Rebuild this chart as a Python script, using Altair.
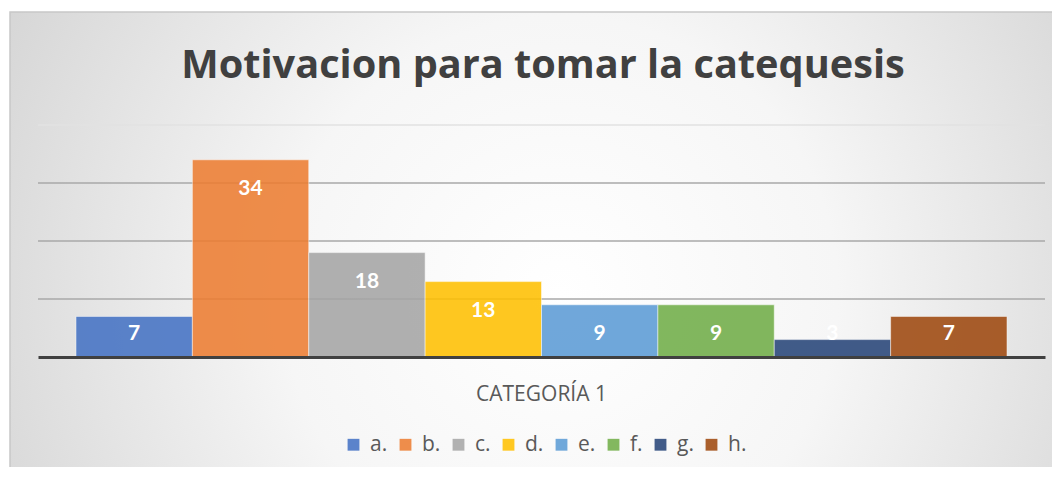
import altair as alt
import pandas as pd

# ---- data ----
title_text = "Motivacion para tomar la catequesis"
category = "CATEGORÍA 1"
series = ["a.", "b.", "c.", "d.", "e.", "f.", "g.", "h."]
values = [7, 34, 18, 13, 9, 9, 3, 7]
colors = ["#4472C4", "#ED7D31", "#A5A5A5", "#FFC000", "#5B9BD5", "#70AD47", "#264478", "#9E480E"]
grid_values = [10, 20, 30, 40]

df = pd.DataFrame({"cat": [category] * len(series), "series": series, "value": values})
grid_df = pd.DataFrame({"v": grid_values})

W, H = 1007, 232
FONT = "Lato"
TFONT = "Open Sans"

# background panel (Excel-like radial gradient)
bg = alt.Chart(alt.Data(values=[{"k": 1}])).mark_rect(
    fill=alt.RadialGradient(
        gradient="radial",
        stops=[alt.GradientStop(color="#ffffff", offset=0),
               alt.GradientStop(color="#f6f6f6", offset=0.35),
               alt.GradientStop(color="#c6c6c6", offset=1)],
        x1=0.52, y1=0.55, r1=0.0, x2=0.52, y2=0.55, r2=0.75),
    stroke="#c8c8c8", strokeWidth=1.5,
).encode(x=alt.value(-28), x2=alt.value(1030), y=alt.value(-113), y2=alt.value(345))

y_scale = alt.Scale(domain=[0, 40], nice=False)

grid = alt.Chart(grid_df).mark_rule(strokeWidth=1.5).encode(
    y=alt.Y("v:Q", scale=y_scale, axis=None),
    x=alt.value(0), x2=alt.value(W),
    color=alt.condition("datum.v === 40", alt.value("#e2e2e2"), alt.value("#a8a8a8")),
)

x_enc = alt.X("cat:N", title=None,
              scale=alt.Scale(paddingOuter=0.0408, paddingInner=0),
              axis=alt.Axis(labelAngle=0, labelFont=TFONT, labelFontSize=21, labelColor="#595959",
                            labelPadding=26, ticks=False, domainColor="#404040", domainWidth=3,
                            zindex=1))
xo = alt.XOffset("series:N", sort=series, scale=alt.Scale(paddingInner=0, paddingOuter=0))

bars = alt.Chart(df).mark_bar(opacity=0.87, stroke="#ffffff", strokeWidth=1, strokeOpacity=0.5).encode(
    x=x_enc, xOffset=xo,
    y=alt.Y("value:Q", scale=y_scale, axis=None),
    color=alt.Color("series:N", sort=series,
                    scale=alt.Scale(domain=series, range=colors),
                    legend=alt.Legend(title=None, orient="none", direction="horizontal",
                                      legendX=305, legendY=309, padding=0,
                                      symbolType="square", symbolSize=140, symbolStrokeWidth=0,
                                      symbolOpacity=0.87,
                                      labelFont=TFONT, labelFontSize=21, labelColor="#595959",
                                      labelOffset=6, columnPadding=7)),
)

labels = alt.Chart(df).transform_calculate(
    ly="max(datum.value - 5, 4)"
).mark_text(font=FONT, fontSize=21, fontWeight="bold", color="white", baseline="middle").encode(
    x=alt.X("cat:N"), xOffset=xo,
    y=alt.Y("ly:Q", scale=y_scale, axis=None), text=alt.Text("value:Q"),
)

title = alt.Chart(alt.Data(values=[{"t": title_text}])).mark_text(
    font=TFONT, fontSize=39.7, fontWeight="bold", color="#404040", baseline="alphabetic", align="center"
).encode(x=alt.value(505), y=alt.value(-47), text="t:N")

chart = alt.layer(bg, grid, bars, labels, title).properties(
    width=W, height=H,
    autosize=alt.AutoSizeParams(type="none"),
    padding={"left": 30, "top": 117, "right": 7, "bottom": 110},
).configure_view(stroke=None).configure(background="white")

chart.save("out.html", embed_options={"renderer": "svg", "actions": False})
